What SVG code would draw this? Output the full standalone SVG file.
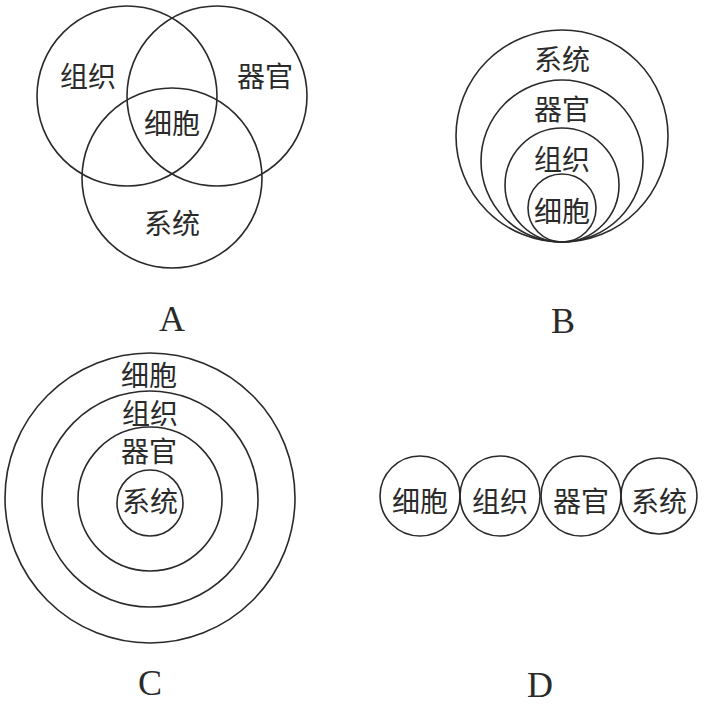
<svg xmlns="http://www.w3.org/2000/svg" width="704" height="714" viewBox="0 0 704 714">
<style>
.c{fill:none;stroke:#2a2a2a;stroke-width:1.6}
.t{font-family:"Noto Sans CJK SC","Noto Sans",sans-serif;font-size:28px;fill:#2a2a2a;text-anchor:middle;dominant-baseline:central}
.l{font-family:"Liberation Serif",serif;font-size:36px;fill:#2a2a2a;text-anchor:middle}
</style>
<rect width="704" height="714" fill="#fff"/>
<g id="diagramA">
<g id="A-zuzhi"><circle class="c" cx="127" cy="96" r="90"/><text class="t" x="88" y="75">组织</text></g>
<g id="A-qiguan"><circle class="c" cx="217" cy="96" r="90"/><text class="t" x="265" y="75">器官</text></g>
<g id="A-xitong"><circle class="c" cx="172" cy="178" r="90"/><text class="t" x="172" y="222">系统</text></g>
<text class="t" x="172" y="122">细胞</text>
<text class="l" x="172" y="331">A</text>
</g>
<g id="diagramB">
<g id="B-xitong"><circle class="c" cx="562" cy="136" r="106"/><text class="t" x="562" y="58">系统</text></g>
<g id="B-qiguan"><circle class="c" cx="562" cy="161" r="81"/><text class="t" x="562" y="108">器官</text></g>
<g id="B-zuzhi"><circle class="c" cx="562" cy="185" r="57"/><text class="t" x="562" y="158">组织</text></g>
<g id="B-xibao"><circle class="c" cx="562" cy="208" r="34"/><text class="t" x="562" y="210">细胞</text></g>
<text class="l" x="563" y="333">B</text>
</g>
<g id="diagramC">
<g id="C-xibao"><circle class="c" cx="150" cy="498" r="145"/><text class="t" x="149" y="374">细胞</text></g>
<g id="C-zuzhi"><circle class="c" cx="150" cy="499" r="108"/><text class="t" x="150" y="412">组织</text></g>
<g id="C-qiguan"><circle class="c" cx="150" cy="499" r="72"/><text class="t" x="149" y="450">器官</text></g>
<g id="C-xitong"><circle class="c" cx="150" cy="503" r="33"/><text class="t" x="150" y="500">系统</text></g>
<text class="l" x="150" y="695">C</text>
</g>
<g id="diagramD">
<g id="D-xibao"><circle class="c" cx="420" cy="496" r="40"/><text class="t" x="420" y="500">细胞</text></g>
<g id="D-zuzhi"><circle class="c" cx="500" cy="496" r="40"/><text class="t" x="500" y="500">组织</text></g>
<g id="D-qiguan"><circle class="c" cx="581" cy="496" r="40"/><text class="t" x="581" y="500">器官</text></g>
<g id="D-xitong"><circle class="c" cx="659" cy="496" r="38"/><text class="t" x="659" y="500">系统</text></g>
<text class="l" x="540" y="697">D</text>
</g>
<g id="connectors"/>
</svg>
